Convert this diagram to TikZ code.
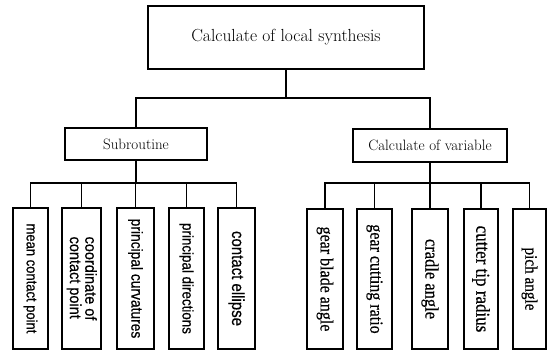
\documentclass[tikz,border=0pt]{standalone}
\usepackage{fontspec}
\usepackage{graphicx}
\newfontfamily\lsans[FakeBold=0.7]{Liberation Sans}
\newfontfamily\rserif[FakeBold=0.6]{Liberation Serif}
\newcommand{\vt}[2]{\rotatebox{-90}{\scalebox{1}[1.15]{\fontsize{#1}{#1}\selectfont #2}}}
\begin{document}
\begin{tikzpicture}[x=1pt,y=-1pt,
  box/.style={draw,line width=1.5pt,inner sep=0pt,anchor=center},
  conn/.style={line width=1.2pt},
  lleaf/.style={box,minimum height=141pt,font=\lsans},
  rleaf/.style={box,minimum height=140pt,font=\rserif}]
\useasboundingbox (0,0) rectangle (547,352);
% top
\node[box,minimum width=276pt,minimum height=63pt,font=\fontsize{17.5}{20}\selectfont] (top) at (286,37.5) {Calculate of local synthesis};
\node[box,minimum width=142pt,minimum height=32pt,font=\fontsize{15}{18}\selectfont] (sub) at (136,144) {Subroutine};
\node[box,minimum width=154pt,minimum height=33pt,font=\fontsize{15}{18}\selectfont] (var) at (430,145.5) {Calculate of variable};
\coordinate (tj) at (286,98);
\draw[conn] (top.south) -- (tj);
\draw[conn] (sub.north) |- (tj);
\draw[conn] (var.north) |- (tj);
% left leaves
\node[lleaf,minimum width=35pt] (l1) at (30.5,278.5) {\vt{13}{mean contact point}};
\node[lleaf,minimum width=39pt] (l2) at (81.5,278.5) {\rotatebox{-90}{\scalebox{1}[1.1]{\fontsize{14.5}{11.5}\selectfont\begin{tabular}{@{}l@{}}coordinate of\\contact point\end{tabular}}}};
\node[lleaf,minimum width=37pt] (l3) at (135.5,278.5) {\vt{13.8}{principal curvatures}};
\node[lleaf,minimum width=35pt] (l4) at (186.5,278.5) {\vt{13.4}{principal directions}};
\node[lleaf,minimum width=37pt] (l5) at (236.5,278.5) {\vt{15}{contact ellipse}};
\coordinate (lj) at (136,183);
\draw[conn] (sub.south) -- (lj);
\foreach \n in {l1,l2,l3,l4,l5} \draw[conn] (\n.north) |- (lj);
% right leaves
\node[rleaf,minimum width=36pt] (r1) at (325,279) {\vt{16}{gear blade angle}};
\node[rleaf,minimum width=35pt] (r2) at (374.5,279) {\vt{16}{gear cutting ratio}};
\node[rleaf,minimum width=36pt] (r3) at (430,279) {\vt{16.5}{cradle angle}};
\node[rleaf,minimum width=34pt] (r4) at (481,279) {\vt{17}{cutter tip radius}};
\node[rleaf,minimum width=33pt] (r5) at (529.5,279) {\vt{15.2}{pich angle}};
\coordinate (rj) at (430,183);
\draw[conn] (var.south) -- (rj);
\foreach \n in {r1,r2,r3,r4,r5} \draw[conn] (\n.north) |- (rj);
\end{tikzpicture}
\end{document}
